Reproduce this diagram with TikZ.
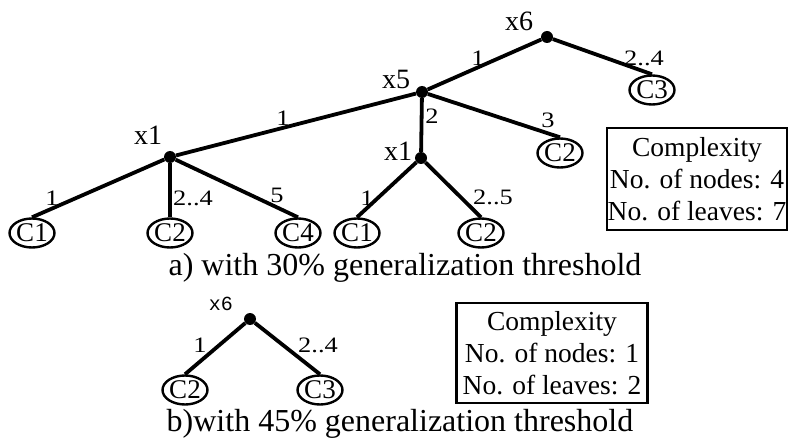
\documentclass[tikz,border=0pt]{standalone}
\usepackage{fontspec}
\setmainfont{Liberation Serif}
\newfontfamily\monofont{Liberation Mono}
\newfontfamily\widefont[FakeStretch=1.2]{Liberation Serif}
\usetikzlibrary{shapes.geometric}
\tikzset{
  dotnode/.style={circle,fill=black,inner sep=0pt,minimum size=12pt},
  leaf/.style={ellipse,draw,line width=2.4pt,inner sep=0pt,minimum width=45pt,minimum height=29pt,font=\fontsize{27}{27}\selectfont},
  varlbl/.style={font=\fontsize{28}{28}\selectfont,inner sep=0pt},
  edgelbl/.style={font=\widefont\fontsize{22}{22}\selectfont,inner sep=0pt},
  branch/.style={line width=3.8pt},
  cbox/.style={draw,line width=2.4pt,align=center,inner sep=0pt,font=\fontsize{27.5}{32}\selectfont},
  caption/.style={font=\fontsize{32}{32}\selectfont,inner sep=0pt,anchor=base}
}
\begin{document}
\begin{tikzpicture}[x=1pt,y=-1pt]
\useasboundingbox (0,0) rectangle (788,441);
% part a
\node[dotnode] (x6) at (547,37) {};
\node[dotnode] (x5) at (422,92) {};
\node[dotnode] (x1a) at (170,157) {};
\node[dotnode] (x1b) at (421,158) {};
\node[leaf] (c3) at (652,90) {C3};
\node[leaf] (c2r) at (560,153) {C2};
\node[leaf] (c1a) at (32,233) {C1};
\node[leaf] (c2a) at (170,233) {C2};
\node[leaf] (c4a) at (298,233) {C4};
\node[leaf] (c1b) at (357,233) {C1};
\node[leaf] (c2b) at (481,233) {C2};
\node[varlbl] (lx6) at (519,21) {x6};
\node[varlbl] (lx5) at (396,79) {x5};
\node[varlbl] (lx1a) at (148,135) {x1};
\node[varlbl] (lx1b) at (398,151) {x1};
\draw[branch] (x6) -- (x5);
\draw[branch] (x6) -- (c3.north);
\draw[branch] (x5) -- (x1a);
\draw[branch] (x5) -- (x1b);
\draw[branch] (x5) -- (c2r.north);
\draw[branch] (x1a) -- (c1a.north);
\draw[branch] (x1a) -- (c2a.north);
\draw[branch] (x1a) -- (c4a.north);
\draw[branch] (x1b) -- (c1b.north);
\draw[branch] (x1b) -- (c2b.north);
\node[edgelbl] (e1) at (478,58) {1};
\node[edgelbl] (e2) at (644,58) {2..4};
\node[edgelbl] (e3) at (432,116) {2};
\node[edgelbl] (e4) at (548,120) {3};
\node[edgelbl] (e5) at (283,118) {1};
\node[edgelbl] (e6) at (52,198) {1};
\node[edgelbl] (e7) at (193,198) {2..4};
\node[edgelbl] (e8) at (277,195) {5};
\node[edgelbl] (e9) at (367,198) {1};
\node[edgelbl] (e10) at (493,197) {2..5};
\node[cbox,minimum width=180pt,minimum height=102pt] (boxa) at (697,179) {Complexity\\No. of nodes: 4\\No. of leaves: 7};
\node[caption] (capa) at (405,275) {a) with 30\% generalization threshold};
% part b
\node[dotnode] (y6) at (250,319) {};
\node[leaf] (d2) at (185,390) {C2};
\node[leaf] (d3) at (320,390) {C3};
\node[font=\monofont\fontsize{20}{20}\selectfont,inner sep=0pt] (ly6) at (221,304) {x6};
\draw[branch] (y6) -- (d2.north);
\draw[branch] (y6) -- (d3.north);
\node[edgelbl] (f1) at (200,345) {1};
\node[edgelbl] (f2) at (318,345) {2..4};
\node[cbox,minimum width=191pt,minimum height=100pt] (boxb) at (552,353) {Complexity\\No. of nodes: 1\\No. of leaves: 2};
\node[caption] (capb) at (400,431) {b)with 45\% generalization threshold};
\end{tikzpicture}
\end{document}
